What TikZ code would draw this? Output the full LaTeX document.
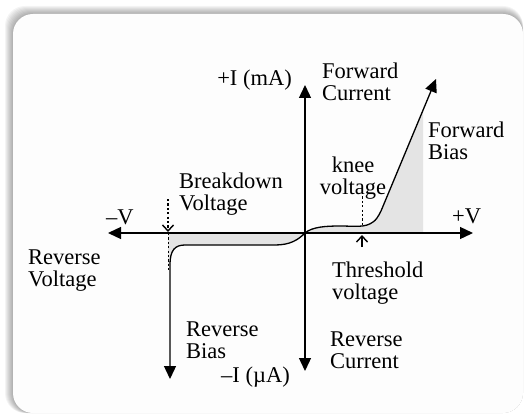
\documentclass[tikz,border=0pt]{standalone}
\usepackage{fontspec}
\setmainfont{Liberation Serif}
\usetikzlibrary{arrows.meta}
\definecolor{panelcol}{HTML}{FDFDFD}
\definecolor{areagray}{HTML}{E4E4E4}
\begin{document}
\begin{tikzpicture}[x=1pt,y=-1pt,
  lbl/.style={inner sep=0pt, font=\fontsize{22.5}{22}\selectfont, align=left},
  axis/.style={line width=1.3pt, {Triangle[length=13pt,width=12pt]}-{Triangle[length=13pt,width=12pt]}},
  curvestyle/.style={line width=1.3pt, line join=round},
  guide/.style={line width=1pt, dash pattern=on 2.2pt off 2.2pt},
  pointer/.style={line width=1.4pt, -{Straight Barb[length=6pt,width=11pt,line width=1.4pt]}}
]
\useasboundingbox (0,0) rectangle (526,414);
% panel with soft shadow (top and left)
\foreach \i in {1,...,8} {
  \fill[black, opacity=0.045, rounded corners=20pt] (13-\i,14-\i) rectangle (523,413);
}
\fill[panelcol, rounded corners=20pt] (13,14) rectangle (523,413);

% coordinates
\coordinate (O) at (305,233);
\coordinate (xl) at (108,233);
\coordinate (xr) at (473,233);
\coordinate (yt) at (305,85);
\coordinate (yb) at (305,371);
\coordinate (ftip) at (436,79);
\coordinate (rtip) at (170,379);

% shaded regions
\fill[areagray] (O) .. controls (312,227) and (325,226) .. (340,226)
  .. controls (355,226) and (365,228) .. (373,222)
  .. controls (376,220) and (378,217) .. (381,211)
  -- (423,110) -- (423,233) -- cycle;
\fill[areagray] (O) .. controls (298,240) and (290,245) .. (275,245)
  -- (185,245) .. controls (175,245) and (170,250) .. (170,265)
  -- (168,265) -- (168,233) -- cycle;

% guides
\draw[guide] (168,233) -- (168,270);
\draw[guide] (362,192) -- (362,226);
\draw[guide, line width=1.3pt, -{Straight Barb[length=6pt,width=11pt,line width=1.4pt]}] (168,199) -- (168,232);
\draw[pointer] (362,247) -- (362,235);

% axes
\draw[axis] (xl) -- (xr);
\draw[axis] (yb) -- (yt);

% characteristic curve
\draw[curvestyle, {Triangle[length=13pt,width=12pt]}-{Triangle[length=13pt,width=12pt]}]
  (rtip) -- (170,265) .. controls (170,250) and (175,245) .. (185,245)
  -- (275,245) .. controls (290,245) and (298,240) .. (O)
  .. controls (312,227) and (325,226) .. (340,226)
  .. controls (355,226) and (365,228) .. (373,222)
  .. controls (376,220) and (378,217) .. (381,211)
  -- (ftip);

% labels
\node[lbl, anchor=east] (ipos) at (292,80) {+I (mA)};
\node[lbl, anchor=north west] (fc) at (322,63) {Forward\\Current};
\node[lbl, anchor=north west] (fb) at (428,122) {Forward\\Bias};
\node[lbl, anchor=north, align=center] (knee) at (353,157) {knee\\voltage};
\node[lbl, anchor=west] (vpos) at (452,216) {+V};
\node[lbl, anchor=north west] (thr) at (332,262) {Threshold\\voltage};
\node[lbl, anchor=north west] (bd) at (179,173) {Breakdown\\Voltage};
\node[lbl, anchor=west] (vneg) at (106,217) {–V};
\node[lbl, anchor=north west] (rv) at (28,250) {Reverse\\Voltage};
\node[lbl, anchor=north west] (rb) at (186,322) {Reverse\\Bias};
\node[lbl, anchor=west] (ineg) at (221,377) {–I (µA)};
\node[lbl, anchor=north west] (rc) at (330,332) {Reverse\\Current};
\end{tikzpicture}
\end{document}
